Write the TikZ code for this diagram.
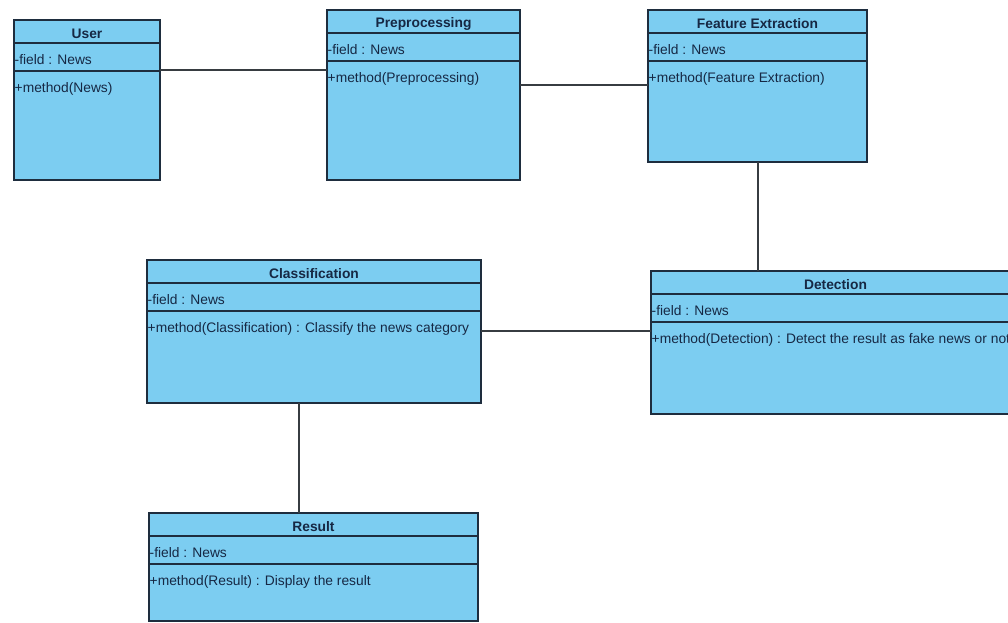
\documentclass[tikz,border=0pt]{standalone}
\usepackage{fontspec}
\setmainfont{Liberation Sans}
\definecolor{boxfill}{RGB}{124,205,241}
\definecolor{boxline}{RGB}{30,45,62}
\definecolor{txt}{RGB}{22,40,68}
\definecolor{wire}{RGB}{55,60,65}
\tikzset{
  classbox/.style={draw=boxline, fill=boxfill, line width=1.5pt, rectangle, inner sep=0pt, outer sep=0pt},
  divider/.style={draw=boxline, line width=1.3pt},
  titletext/.style={font=\fontsize{13.8}{16}\selectfont\bfseries, text=txt, inner sep=0pt},
  membertext/.style={font=\fontsize{13.8}{16}\selectfont, text=txt, inner sep=0.5pt, anchor=west},
  wireline/.style={draw=wire, line width=1.3pt}
}
% name, x1, y1, x2, y2, title, method
\newcommand\umlclass[7]{%
  \node[classbox, anchor=north west, minimum width={#4-#2}, minimum height={#5-#3}] (#1) at (#2,#3) {};
  \draw[divider] (#2,#3+23) -- (#4,#3+23);
  \draw[divider] (#2,#3+51) -- (#4,#3+51);
  \node[titletext] (#1-title) at ({(#2+#4)/2},#3+13.5) {#6};
  \node[membertext] (#1-field) at (#2,#3+39.5) {-field : News};
  \node[membertext] (#1-method) at (#2,#3+69) {#7};
}
\begin{document}
\begin{tikzpicture}[x=1pt,y=-1pt]
\useasboundingbox (0,0) rectangle (1008,622);
\fill[white] (0,0) rectangle (1008,622);
\clip (0,0) rectangle (1008,622);
\umlclass{user}{14}{20}{160}{180}{User}{+method(News)}
\umlclass{pre}{327}{10}{520}{180}{Preprocessing}{+method(Preprocessing)}
\umlclass{fe}{648}{10}{867}{162}{Feature Extraction}{+method(Feature Extraction)}
\umlclass{cls}{147}{260}{481}{403}{Classification}{+method(Classification) : Classify the news category}
\umlclass{det}{651}{271}{1020}{414}{Detection}{+method(Detection) : Detect the result as fake news or not}
\umlclass{res}{149}{513}{478}{621}{Result}{+method(Result) : Display the result}
\draw[wireline] (user.east |- 0,70) -- (pre.west |- 0,70);
\draw[wireline] (pre.east |- 0,85) -- (fe.west |- 0,85);
\draw[wireline] (fe.south -| 758,0) -- (det.north -| 758,0);
\draw[wireline] (cls.east |- 0,331) -- (det.west |- 0,331);
\draw[wireline] (cls.south -| 299,0) -- (res.north -| 299,0);
\end{tikzpicture}
\end{document}
